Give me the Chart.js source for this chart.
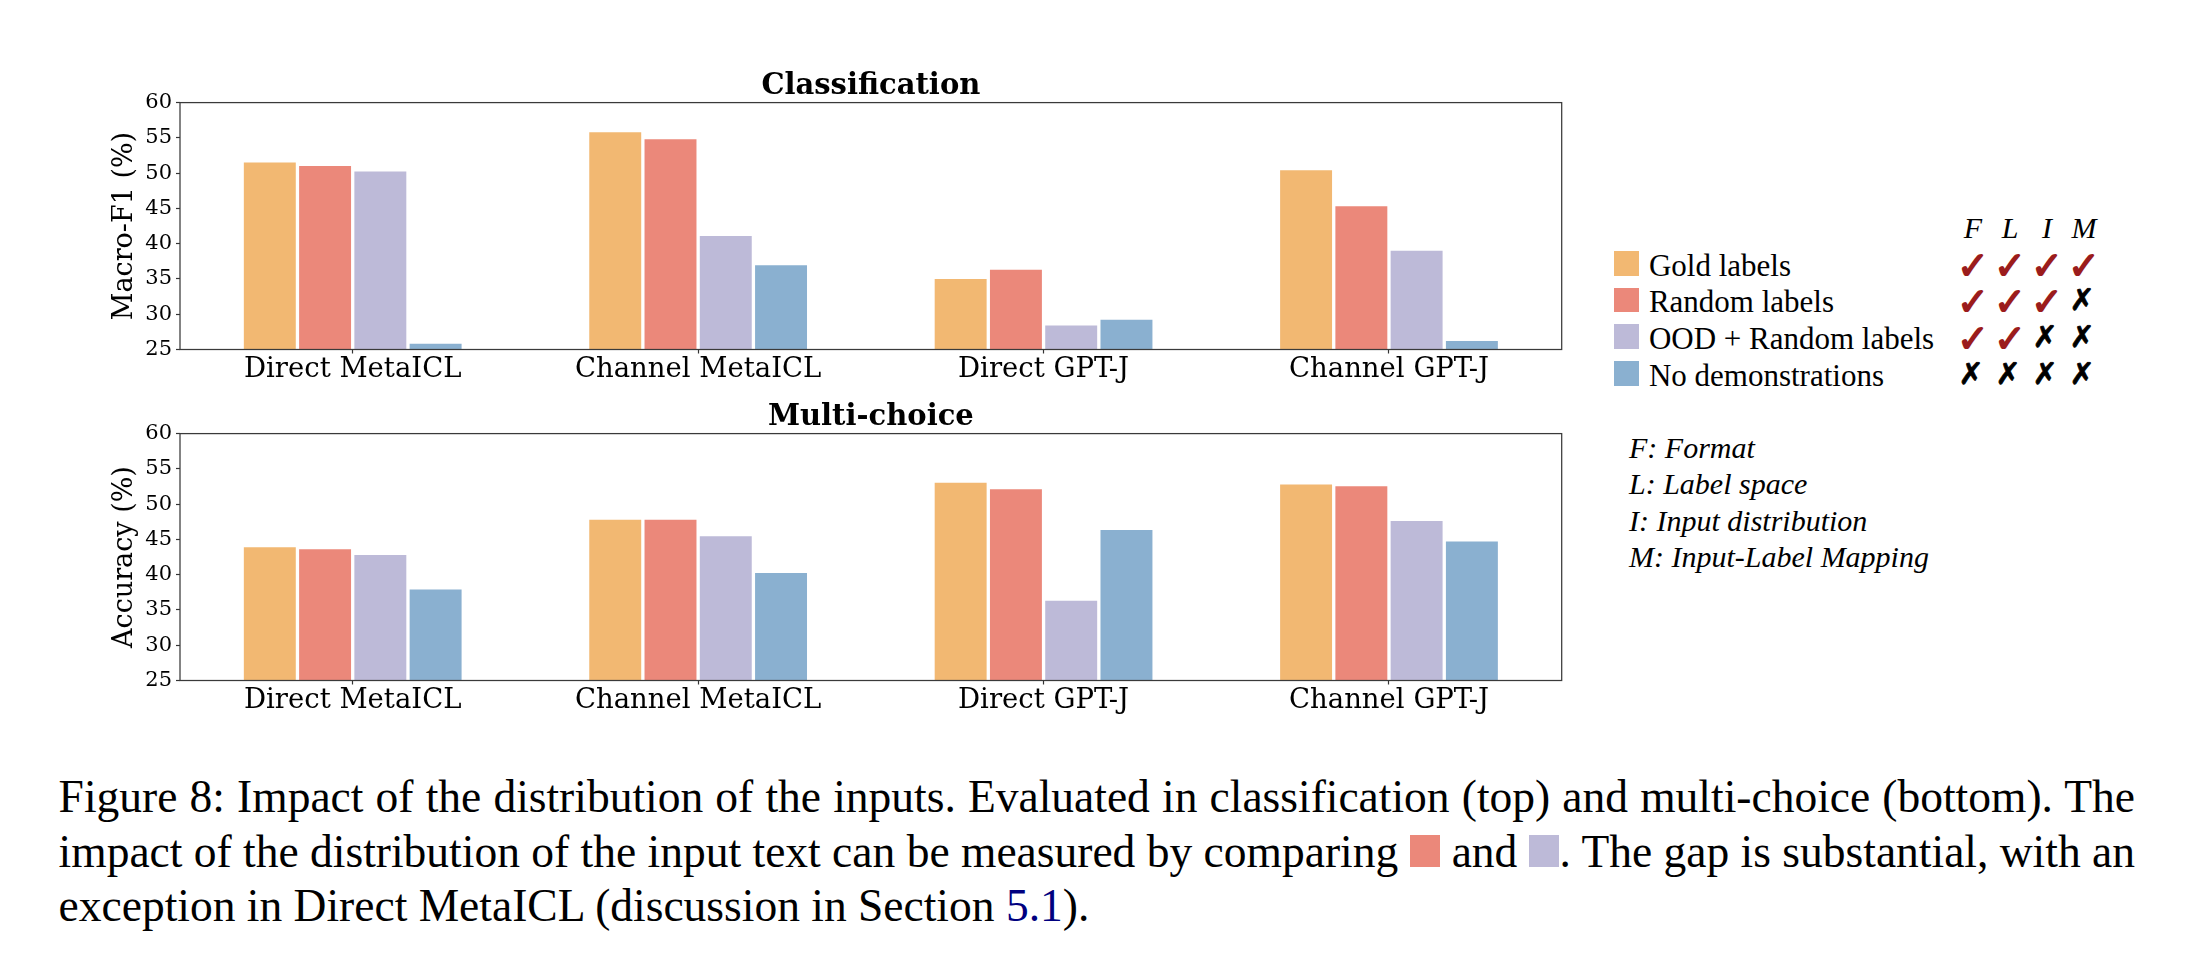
<!DOCTYPE html>
<html><head><meta charset="utf-8">
<script src="https://cdn.jsdelivr.net/npm/chart.js@4.4.1/dist/chart.umd.min.js"></script>
<style>
html,body{margin:0;padding:0;background:#fff;}
body{width:2188px;height:956px;position:relative;overflow:hidden;}
canvas{position:absolute;left:0;}
.t{position:absolute;white-space:nowrap;}
.sq{display:inline-block;width:30.7px;height:31.7px;vertical-align:baseline;}
</style></head><body>
<canvas id="c1" width="1600" height="400" style="top:0px"></canvas>
<canvas id="c2" width="1600" height="400" style="top:331.4px"></canvas>
<div id="legend"></div>
<div id="caption"></div>
<script>
// ---- data ----
const categories = ['Direct MetaICL', 'Channel MetaICL', 'Direct GPT-J', 'Channel GPT-J'];
const seriesNames = ['Gold labels', 'Random labels', 'OOD + Random labels', 'No demonstrations'];
const seriesColors = ['#F2B872', '#EB887A', '#BDBAD8', '#8AB0D0'];

const clsGold   = [51.5, 55.8, 35.0, 50.4];
const clsRandom = [51.0, 54.8, 36.3, 45.3];
const clsOOD    = [50.25, 41.1, 28.4, 39.0];
const clsNone   = [25.8, 36.95, 29.2, 26.2];

const mcGold   = [43.9, 47.8, 53.05, 52.8];
const mcRandom = [43.6, 47.8, 52.1, 52.55];
const mcOOD    = [42.8, 45.45, 36.3, 47.6];
const mcNone   = [37.9, 40.25, 46.35, 44.7];

const yMin = 25, yMax = 60, yStep = 5;

const propHeaders = ['F', 'L', 'I', 'M'];
const propMatrix = [[1,1,1,1],[1,1,1,0],[1,1,0,0],[0,0,0,0]];
const propDefs = ['F: Format', 'L: Label space', 'I: Input distribution', 'M: Input-Label Mapping'];

// ---- charts ----
const spinePlugin = {
  id: 'spines',
  afterDatasetsDraw(chart) {
    const {ctx, chartArea: a} = chart;
    ctx.save();
    ctx.strokeStyle = '#3a3a3a';
    ctx.lineWidth = 1.25;
    ctx.strokeRect(a.left, a.top, a.right - a.left, a.bottom - a.top);
    ctx.restore();
  }
};

function makeChart(id, title, yTitle, series) {
  return new Chart(document.getElementById(id), {
    type: 'bar',
    data: {
      labels: categories,
      datasets: series.map((vals, i) => ({
        label: seriesNames[i], data: vals, backgroundColor: seriesColors[i],
        borderWidth: 0, categoryPercentage: 0.64, barPercentage: 0.94
      }))
    },
    options: {
      responsive: false, animation: false, devicePixelRatio: 1,
      layout: {padding: {left: 0, right: 38.3, top: 0, bottom: 0}},
      plugins: {
        legend: {display: false}, tooltip: {enabled: false},
        title: {display: true, text: title, fullSize: false, color: '#000',
          font: {family: 'DejaVu Serif', size: 29, weight: 'bold', lineHeight: 1},
          padding: {top: 72.2, bottom: 1.4}}
      },
      scales: {
        x: {
          grid: {display: true, drawOnChartArea: false, drawTicks: true, tickLength: 4, offset: false, tickColor: '#333', tickWidth: 1.2},
          border: {display: false},
          ticks: {font: {family: 'DejaVu Serif', size: 27.5}, color: '#000', padding: 0, maxRotation: 0, autoSkip: false},
          afterFit(s) { s.height = 50.5; }
        },
        y: {
          min: yMin, max: yMax,
          ticks: {stepSize: yStep, font: {family: 'DejaVu Serif', size: 21}, color: '#000', padding: 4},
          grid: {drawOnChartArea: false, drawTicks: true, tickLength: 4, tickColor: '#333', tickWidth: 1.2},
          border: {display: false},
          title: {display: true, text: yTitle, color: '#000', font: {family: 'DejaVu Serif', size: 27}, padding: {top: 109, bottom: 0}},
          afterFit(s) { s.width = 180; }
        }
      }
    },
    plugins: [spinePlugin]
  });
}

makeChart('c1', 'Classification', 'Macro-F1 (%)', [clsGold, clsRandom, clsOOD, clsNone]);
makeChart('c2', 'Multi-choice', 'Accuracy (%)', [mcGold, mcRandom, mcOOD, mcNone]);

// ---- text helpers ----
const METRICS = {
  'Liberation Serif': 0.8375,
  'DejaVu Sans': 0.846
};
function place(parent, html, left, baseline, size, family, opts = {}) {
  const d = document.createElement('div');
  d.className = 't';
  d.innerHTML = html;
  d.style.fontFamily = "'" + family + "'";
  d.style.fontSize = size + 'px';
  d.style.lineHeight = size + 'px';
  d.style.top = (baseline - METRICS[family] * size) + 'px';
  if (opts.center) {
    d.style.left = (left - 30) + 'px';
    d.style.width = '60px';
    d.style.textAlign = 'center';
  } else {
    d.style.left = left + 'px';
  }
  if (opts.italic) d.style.fontStyle = 'italic';
  if (opts.bold) d.style.fontWeight = 'bold';
  if (opts.color) d.style.color = opts.color;
  if (opts.stroke) d.style.webkitTextStroke = opts.stroke + 'px ' + (opts.color || '#000');
  parent.appendChild(d);
  return d;
}

// ---- legend ----
const legend = document.getElementById('legend');
const rowCenters = [263.3, 300, 336.7, 373.6];
const colCenters = [1973, 2010, 2047, 2084];
propHeaders.forEach((h, j) => place(legend, h, colCenters[j], 238.3, 30, 'Liberation Serif', {center: true, italic: true}));
seriesNames.forEach((name, i) => {
  const sq = document.createElement('div');
  sq.style.cssText = `position:absolute;left:1614.4px;top:${rowCenters[i] - 12.3}px;width:24.2px;height:24.6px;background:${seriesColors[i]};`;
  legend.appendChild(sq);
  place(legend, name, 1648.9, rowCenters[i] + 12.3, 31, 'Liberation Serif');
  propMatrix[i].forEach((v, j) => {
    if (v) {
      place(legend, '\u2713', colCenters[j], rowCenters[i] + 1.7 + 0.36 * 38, 38, 'DejaVu Sans',
        {center: true, color: '#9B1C1C', stroke: 1.6});
    } else {
      place(legend, '\u2717', colCenters[j] - 2, rowCenters[i] + 0.36 * 30, 30, 'DejaVu Sans',
        {center: true, bold: true, color: '#000', stroke: 0.8});
    }
  });
});
propDefs.forEach((t, i) => place(legend, t, 1629, 458.3 + i * 36.2, 30, 'Liberation Serif', {italic: true}));

// ---- caption ----
const cap = document.getElementById('caption');
const capLeft = 58.6, capRight = 2135, capSize = 45.5;
const sqRed = `<span class="sq" style="background:${seriesColors[1]}"></span>`;
const sqPur = `<span class="sq" style="background:${seriesColors[2]}"></span>`;
const capLines = [
  {html: 'Figure 8: Impact of the distribution of the inputs. Evaluated in classification (top) and multi-choice (bottom). The', baseline: 811.7, justify: true},
  {html: `impact of the distribution of the input text can be measured by comparing ${sqRed} and ${sqPur}. The gap is substantial, with an`, baseline: 866.7, justify: true},
  {html: 'exception in Direct MetaICL (discussion in Section <span style="color:#000080">5.1</span>).', baseline: 921.5, justify: false}
];
capLines.forEach(l => {
  const d = place(cap, l.html, capLeft, l.baseline, capSize, 'Liberation Serif');
  if (l.justify) {
    const w = d.getBoundingClientRect().width;
    const spaces = (d.textContent.match(/ /g) || []).length;
    d.style.wordSpacing = ((capRight - capLeft - w) / spaces) + 'px';
  }
});
</script>
</body></html>
